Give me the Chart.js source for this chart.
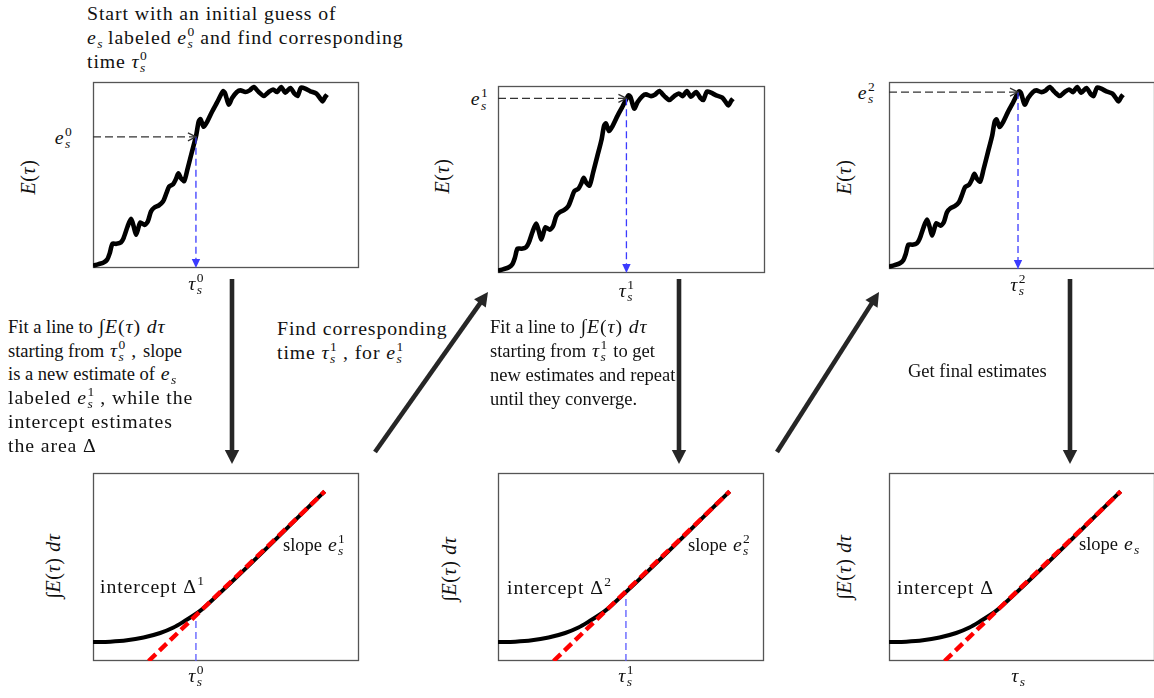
<!DOCTYPE html>
<html><head><meta charset="utf-8">
<script src="https://cdn.jsdelivr.net/npm/chart.js@4.4.1/dist/chart.umd.min.js"></script>
<style>
html,body{margin:0;padding:0;background:#fff;}
body{width:1154px;height:698px;position:relative;overflow:hidden;font-family:"Liberation Serif","Tinos","Times New Roman","DejaVu Serif","Noto Serif",serif;color:#111;}
canvas.panel{position:absolute;}
.t{position:absolute;white-space:nowrap;font-size:19.8px;letter-spacing:0.9px;line-height:24px;}
.c{font-size:18.5px;letter-spacing:0;}
.probe{display:inline-block;width:0;height:0;}
i{font-style:italic;}
.ssb{position:relative;display:inline-block;height:0;letter-spacing:0;}
.ssb .sp,.ssb .sb{position:absolute;left:0.5px;font-size:13.5px;line-height:13.5px;}
.ssb .sp{bottom:5.8px;}
.ssb .sb{top:-6.8px;font-style:italic;}
.rot{position:absolute;white-space:nowrap;font-size:20px;letter-spacing:0.6px;transform:translate(-50%,-50%) rotate(-90deg);}
svg{position:absolute;left:0;top:0;}
</style>
</head><body>
<script>
// ---------- data (axis units 0..100) ----------
const tauE = [0,2.1,4.0,5.3,6.3,7.3,8.8,10.5,11.5,13.0,14.3,15.3,16.2,17.2,17.8,19.3,20.6,21.8,23.1,24.7,26.3,27.6,28.6,30.1,31.3,32.1,33.1,34.3,35.6,37.2,38.8,39.7,40.4,41.6,42.9,44.7,46.6,48.9,49.7,51.0,52.3,54.1,55.4,57.3,58.9,60.4,62.3,64.2,66.0,67.7,69.2,70.7,72.3,74.2,75.7,76.9,78.2,79.8,81.7,84.0,85.5,86.3,87.3,88.0];
const valE = [1.2,2.1,3.0,4.5,8.0,13.0,13.0,13.8,16.1,22.3,26.4,22.3,17.9,22.3,24.5,23.2,25.0,30.4,32.5,33.6,35.7,40.2,43.8,45.0,48.2,50.9,48.2,46.8,53.6,62.5,71.4,78.6,80.0,75.9,78.6,83.9,88.9,95.0,93.8,87.9,91.4,94.6,95.5,94.6,95.5,97.3,94.6,92.5,94.6,96.0,94.6,97.3,94.3,96.8,93.8,92.5,97.0,96.4,95.0,93.8,91.0,89.6,92.0,93.2];
const guessE   = [70.5, 93.4, 94.6];   // e_s^0, e_s^1, e_s^2
const guessTau = [38.7, 48.1, 48.5];   // tau_s^0, tau_s^1, tau_s^2
const tauInt = [0, 6.5, 12.75, 19, 25.25, 30.25, 34.6, 37.75, 40.25, 42.75, 87.1];
const valInt = [10.1, 10.3, 11, 12.5, 14.9, 17.8, 21.4, 24.2, 26.7, 29.7, 90.2];
const fitTau = [20.9, 87.1];
const fitVal = [0, 90.2];
const blueTop = [25.6, 36.5];
const guessLabels = ['0','1','2'];

// ---------- layout ----------
const P = 6;
const framesTop = [{l:93,t:82,w:266,h:186},{l:498,t:86,w:267,h:187},{l:889,t:82,w:266,h:187}];
const framesBot = [{l:93,t:473,w:266,h:188},{l:498,t:473,w:266,h:188},{l:889,t:473,w:266,h:188}];

const framePlugin = {
  id:'frame',
  beforeDatasetsDraw(chart){
    const a = chart.chartArea, ctx = chart.ctx;
    ctx.save(); ctx.strokeStyle='#555'; ctx.lineWidth=1.3;
    ctx.strokeRect(Math.round(a.left)+0.5, Math.round(a.top)+0.5, Math.round(a.right-a.left)-1, Math.round(a.bottom-a.top)-1);
    ctx.restore();
  }
};
const arrowPlugin = {
  id:'arrowHeads',
  afterDatasetsDraw(chart){
    const ctx = chart.ctx;
    chart.data.datasets.forEach((ds,i)=>{
      if(!ds.arrow) return;
      const pts = chart.getDatasetMeta(i).data;
      const p1 = pts[pts.length-2], p2 = pts[pts.length-1];
      const ang = Math.atan2(p2.y-p1.y, p2.x-p1.x);
      ctx.save(); ctx.translate(p2.x,p2.y); ctx.rotate(ang);
      ctx.setLineDash([]);
      if(ds.arrow==='open'){
        ctx.strokeStyle=ds.borderColor; ctx.lineWidth=1.3;
        ctx.beginPath(); ctx.moveTo(-8,-4); ctx.lineTo(0,0); ctx.lineTo(-8,4); ctx.stroke();
      } else {
        ctx.fillStyle=ds.borderColor;
        ctx.beginPath(); ctx.moveTo(0,0); ctx.lineTo(-9,-4.2); ctx.lineTo(-9,4.2); ctx.closePath(); ctx.fill();
      }
      ctx.restore();
    });
  }
};

function makeCanvas(f){
  const c = document.createElement('canvas');
  c.className='panel';
  c.width = f.w + 2*P; c.height = f.h + 2*P;
  c.style.left = (f.l-P)+'px'; c.style.top = (f.t-P)+'px';
  c.style.width = c.width+'px'; c.style.height = c.height+'px';
  document.body.appendChild(c);
  return c;
}
function makeChart(f, datasets){
  const c = makeCanvas(f);
  return new Chart(c.getContext('2d'), {
    type:'line',
    data:{datasets},
    options:{
      responsive:false, animation:false, events:[],
      devicePixelRatio:1,
      layout:{padding:P},
      plugins:{legend:{display:false}, tooltip:{enabled:false}},
      elements:{point:{radius:0}, line:{borderJoinStyle:'round', borderCapStyle:'butt', tension:0}},
      scales:{
        x:{type:'linear', min:0, max:100, display:false},
        y:{type:'linear', min:0, max:100, display:false}
      }
    },
    plugins:[framePlugin, arrowPlugin]
  });
}

// ---------- text helpers ----------
function ms(base, sub, sup){
  const w = sup ? 7.5 : 5.5;
  return '<i>'+base+'</i><span class="ssb" style="width:'+w+'px">'+
    (sup?'<span class="sp">'+sup+'</span>':'')+(sub?'<span class="sb">'+sub+'</span>':'')+'</span>';
}
function sup(base, s){
  return base+'<span class="ssb" style="width:7.5px"><span class="sp">'+s+'</span></span>';
}
function addText(html, x, baseline, align, extra){
  const d = document.createElement('div');
  d.className='t'+(extra?' '+extra:'');
  d.innerHTML = '<span class="probe"></span>'+html;
  document.body.appendChild(d);
  const b = d.querySelector('.probe').offsetTop;
  d.style.top = (baseline-b)+'px';
  const w = d.getBoundingClientRect().width;
  d.style.left = (align==='center' ? x-w/2 : align==='right' ? x-w : x)+'px';
}
function addRot(html, cx, cy){
  const d = document.createElement('div');
  d.className='rot'; d.innerHTML=html;
  d.style.left=cx+'px'; d.style.top=cy+'px';
  document.body.appendChild(d);
}
const C = s => '<span class="c">'+s+'</span>';
const INT = '∫<i>E</i>(<i>τ</i>) <i>dτ</i>';

// ---------- top row ----------
const topCharts = framesTop.map((f,i)=>makeChart(f,[
  {data: tauE.map((x,k)=>({x, y:valE[k]})), borderColor:'#000', borderWidth:4.6, tension:0.25, order:1},
  {data:[{x:0,y:guessE[i]},{x:guessTau[i],y:guessE[i]}], borderColor:'#333', borderWidth:1.3, borderDash:[8,4], arrow:'open', order:0},
  {data:[{x:guessTau[i],y:guessE[i]},{x:guessTau[i],y:0}], borderColor:'#3b3bff', borderWidth:1.3, borderDash:[7,4], arrow:'filled', order:0}
]));
// ---------- bottom row ----------
const botCharts = framesBot.map((f,i)=>{
  const ds = [
    {data: fitTau.map((x,k)=>({x, y:fitVal[k]})), borderColor:'#ff0000', borderWidth:4.4, borderDash:[10,5], order:0},
    {data: tauInt.map((x,k)=>({x, y:valInt[k]})), borderColor:'#000', borderWidth:4, cubicInterpolationMode:'monotone', order:1}
  ];
  if(i<2) ds.push({data:[{x:guessTau[i],y:0},{x:guessTau[i],y:blueTop[i]}], borderColor:'#5a5aff', borderWidth:1.3, borderDash:[7,4], order:2});
  return makeChart(f, ds);
});

// ---------- axis labels placed through the chart scales ----------
const eRight = [72, 488, 875];
const tauTopBase = [290, 297, 291];
topCharts.forEach((ch,i)=>{
  const f = framesTop[i];
  const yPix = ch.scales.y.getPixelForValue(guessE[i]) + f.t - P;
  const xPix = ch.scales.x.getPixelForValue(guessTau[i]) + f.l - P;
  addText(ms('e','s',guessLabels[i]), eRight[i], yPix+7, 'right');
  addText(ms('τ','s',guessLabels[i]), xPix, tauTopBase[i], 'center');
});
botCharts.forEach((ch,i)=>{
  const f = framesBot[i];
  const xPix = ch.scales.x.getPixelForValue(guessTau[i]) + f.l - P;
  addText(i<2 ? ms('τ','s',guessLabels[i]) : ms('τ','s'), xPix, 682, 'center');
});
addRot('<i>E</i>(<i>τ</i>)', 28, 177);
addRot('<i>E</i>(<i>τ</i>)', 442, 176);
addRot('<i>E</i>(<i>τ</i>)', 844, 177);
addRot(INT, 53, 566);
addRot(INT, 449, 569);
addRot(INT, 844, 567);

// in-panel notes
addText('intercept '+sup('Δ','1'), 100, 593);
addText('intercept '+sup('Δ','2'), 507, 594);
addText('intercept Δ', 897, 594);
addText(C('slope')+' '+ms('e','s','1'), 283, 551);
addText(C('slope')+' '+ms('e','s','2'), 688, 551);
addText(C('slope')+' '+ms('e','s'), 1079, 550);

// annotation paragraphs
addText('Start with an initial guess of', 87, 20);
addText(ms('e','s')+' labeled '+ms('e','s','0')+' and find corresponding', 87, 44);
addText('time '+ms('τ','s','0'), 87, 68);

addText(C('Fit a line to')+' '+INT, 8, 333);
addText(C('starting from')+' '+ms('τ','s','0')+' , '+C('slope'), 8, 357);
addText(C('is a new estimate of')+' '+ms('e','s'), 8, 380);
addText('labeled '+ms('e','s','1')+' , while the', 8, 404);
addText('intercept estimates', 8, 428);
addText('the area Δ', 8, 452);

addText('Find corresponding', 277, 335);
addText('time '+ms('τ','s','1')+' , for '+ms('e','s','1'), 277, 359);

addText(C('Fit a line to')+' '+INT, 490, 333);
addText(C('starting from')+' '+ms('τ','s','1')+' '+C('to get'), 490, 357);
addText(C('new estimates and repeat'), 490, 381);
addText(C('until they converge.'), 490, 405);

addText(C('Get final estimates'), 908, 377);

// ---------- big flow arrows ----------
const flowArrows = [[232,279,232,464],[679,279,679,464],[1070,279,1070,464],[375,452,488,292],[777,452,879,292]];
let svg = '<svg width="1154" height="698" xmlns="http://www.w3.org/2000/svg">';
flowArrows.forEach(([x1,y1,x2,y2])=>{
  const L = Math.hypot(x2-x1,y2-y1), ux=(x2-x1)/L, uy=(y2-y1)/L, nx=-uy, ny=ux;
  const hl=14, hw=7.2;
  const bx=x2-hl*ux, by=y2-hl*uy;
  svg += '<line x1="'+x1+'" y1="'+y1+'" x2="'+(bx+2*ux)+'" y2="'+(by+2*uy)+'" stroke="#262626" stroke-width="4.6"/>';
  svg += '<polygon fill="#262626" points="'+x2+','+y2+' '+(bx+hw*nx)+','+(by+hw*ny)+' '+(bx-hw*nx)+','+(by-hw*ny)+'"/>';
});
svg += '</svg>';
document.body.insertAdjacentHTML('beforeend', svg);
</script>
</body></html>
